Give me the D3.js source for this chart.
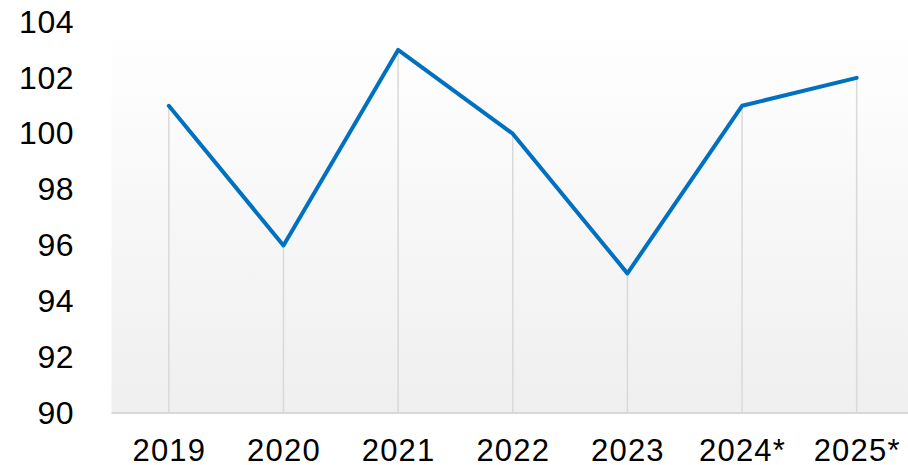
<!DOCTYPE html>
<html>
<head>
<meta charset="utf-8">
<script src="https://cdn.jsdelivr.net/npm/d3@7"></script>
<style>
  body { margin: 0; background: #fff; }
  text { font-family: "Liberation Sans", Arial, sans-serif; fill: #000; }
</style>
</head>
<body>
<svg id="chart" width="908" height="465"></svg>
<script>
// data
const years = ["2019", "2020", "2021", "2022", "2023", "2024*", "2025*"];
const values = [101, 96, 103, 100, 95, 101, 102];
const yTicks = [90, 92, 94, 96, 98, 100, 102, 104];

const svg = d3.select("#chart");
const W = 908, H = 465;
const plotLeft = 111.5, plotTop = 22, plotBottom = 413;

// x: points spaced as categories, the last half-band runs off the right edge
const x = d3.scalePoint().domain(years).range([plotLeft, 914]).padding(0.5);
const y = d3.scaleLinear().domain([90, 104]).range([plotBottom, plotTop]);

// plot area background gradient
const defs = svg.append("defs");
const grad = defs.append("linearGradient")
  .attr("id", "bg").attr("x1", 0).attr("y1", 0).attr("x2", 0).attr("y2", 1);
grad.append("stop").attr("offset", "0%").attr("stop-color", "#ffffff");
grad.append("stop").attr("offset", "100%").attr("stop-color", "#efefef");

svg.append("rect")
  .attr("x", plotLeft).attr("y", plotTop)
  .attr("width", W - plotLeft).attr("height", plotBottom - plotTop)
  .attr("fill", "url(#bg)");

const data = years.map((d, i) => ({ year: d, value: values[i] }));

// drop lines from each point to the axis
svg.append("g")
  .selectAll("line")
  .data(data)
  .join("line")
  .attr("x1", d => x(d.year)).attr("x2", d => x(d.year))
  .attr("y1", d => y(d.value)).attr("y2", plotBottom)
  .attr("stroke", "#d9d9d9")
  .attr("stroke-width", 1.5);

// baseline
svg.append("line")
  .attr("x1", plotLeft).attr("x2", W)
  .attr("y1", plotBottom).attr("y2", plotBottom)
  .attr("stroke", "#d9d9d9")
  .attr("stroke-width", 2);

// y axis labels
const yAxis = svg.append("g")
  .attr("transform", `translate(74,0)`)
  .call(d3.axisLeft(y).tickValues(yTicks).tickSize(0).tickPadding(0));
yAxis.select(".domain").remove();
yAxis.selectAll("text")
  .style("font-size", "32px")
  .style("letter-spacing", "0.5px")
  .style("font-family", "'Liberation Sans', Arial, sans-serif")
  .attr("fill", "#000");

// x axis labels (kept just inside the bottom edge)
const xAxis = svg.append("g")
  .attr("transform", `translate(0,${plotBottom})`)
  .call(d3.axisBottom(x).tickSize(0).tickPadding(26));
xAxis.select(".domain").remove();
xAxis.selectAll("text")
  .style("font-size", "31px")
  .style("letter-spacing", "1.2px")
  .style("font-family", "'Liberation Sans', Arial, sans-serif")
  .attr("fill", "#000");

// the line
const line = d3.line().x(d => x(d.year)).y(d => y(d.value));
svg.append("path")
  .datum(data)
  .attr("d", line)
  .attr("fill", "none")
  .attr("stroke", "#0070c0")
  .attr("stroke-width", 4)
  .attr("stroke-linejoin", "round")
  .attr("stroke-linecap", "round");
</script>
</body>
</html>
